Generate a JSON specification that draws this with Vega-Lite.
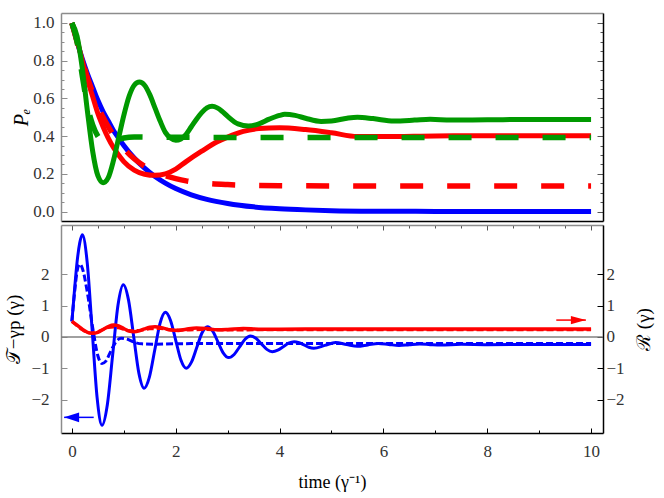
{
  "$schema": "https://vega.github.io/schema/vega-lite/v6.json",
  "padding": {"left": 4, "top": 11, "right": 2, "bottom": 5},
  "datasets": {
    "top": [
      {"t":0,"v":1.0,"s":"b"},{"t":0.1,"v":0.9,"s":"b"},{"t":0.2,"v":0.81,"s":"b"},{"t":0.3,"v":0.73,"s":"b"},{"t":0.4,"v":0.66,"s":"b"},{"t":0.5,"v":0.59,"s":"b"},{"t":0.6,"v":0.53,"s":"b"},{"t":0.7,"v":0.48,"s":"b"},{"t":0.8,"v":0.43,"s":"b"},{"t":0.9,"v":0.39,"s":"b"},{"t":1.0,"v":0.35,"s":"b"},{"t":1.2,"v":0.284,"s":"b"},{"t":1.4,"v":0.23,"s":"b"},{"t":1.6,"v":0.186,"s":"b"},{"t":1.8,"v":0.151,"s":"b"},{"t":2.0,"v":0.122,"s":"b"},{"t":2.3,"v":0.089,"s":"b"},{"t":2.6,"v":0.065,"s":"b"},{"t":3.0,"v":0.043,"s":"b"},{"t":3.5,"v":0.025,"s":"b"},{"t":4.0,"v":0.015,"s":"b"},{"t":4.5,"v":0.009,"s":"b"},{"t":5,"v":0.005,"s":"b"},{"t":6,"v":0.002,"s":"b"},{"t":7,"v":0.001,"s":"b"},{"t":8,"v":0.0,"s":"b"},{"t":10,"v":0.0,"s":"b"},
      {"t":0,"v":1.0,"s":"r"},{"t":0.1,"v":0.91,"s":"r"},{"t":0.2,"v":0.8,"s":"r"},{"t":0.3,"v":0.7,"s":"r"},{"t":0.4,"v":0.61,"s":"r"},{"t":0.5,"v":0.52,"s":"r"},{"t":0.6,"v":0.45,"s":"r"},{"t":0.7,"v":0.39,"s":"r"},{"t":0.8,"v":0.34,"s":"r"},{"t":0.9,"v":0.3,"s":"r"},{"t":1.0,"v":0.265,"s":"r"},{"t":1.2,"v":0.22,"s":"r"},{"t":1.4,"v":0.198,"s":"r"},{"t":1.6,"v":0.192,"s":"r"},{"t":1.8,"v":0.2,"s":"r"},{"t":2.0,"v":0.225,"s":"r"},{"t":2.2,"v":0.265,"s":"r"},{"t":2.5,"v":0.32,"s":"r"},{"t":2.8,"v":0.37,"s":"r"},{"t":3.0,"v":0.395,"s":"r"},{"t":3.3,"v":0.425,"s":"r"},{"t":3.6,"v":0.44,"s":"r"},{"t":4.0,"v":0.445,"s":"r"},{"t":4.5,"v":0.435,"s":"r"},{"t":5.0,"v":0.418,"s":"r"},{"t":5.5,"v":0.398,"s":"r"},{"t":6.0,"v":0.398,"s":"r"},{"t":7,"v":0.401,"s":"r"},{"t":8,"v":0.402,"s":"r"},{"t":9,"v":0.402,"s":"r"},{"t":10,"v":0.402,"s":"r"},
      {"t":0,"v":1.0,"s":"rd"},{"t":0.1,"v":0.9,"s":"rd"},{"t":0.2,"v":0.8,"s":"rd"},{"t":0.3,"v":0.71,"s":"rd"},{"t":0.4,"v":0.63,"s":"rd"},{"t":0.5,"v":0.56,"s":"rd"},{"t":0.6,"v":0.5,"s":"rd"},{"t":0.7,"v":0.45,"s":"rd"},{"t":0.8,"v":0.405,"s":"rd"},{"t":1.0,"v":0.335,"s":"rd"},{"t":1.2,"v":0.28,"s":"rd"},{"t":1.4,"v":0.24,"s":"rd"},{"t":1.6,"v":0.21,"s":"rd"},{"t":1.8,"v":0.19,"s":"rd"},{"t":2.0,"v":0.175,"s":"rd"},{"t":2.2,"v":0.163,"s":"rd"},{"t":2.5,"v":0.152,"s":"rd"},{"t":3.0,"v":0.143,"s":"rd"},{"t":3.5,"v":0.139,"s":"rd"},{"t":4,"v":0.137,"s":"rd"},{"t":5,"v":0.136,"s":"rd"},{"t":6,"v":0.135,"s":"rd"},{"t":10,"v":0.135,"s":"rd"},
      {"t":0,"v":1.0,"s":"g"},{"t":0.1,"v":0.93,"s":"g"},{"t":0.2,"v":0.76,"s":"g"},{"t":0.3,"v":0.53,"s":"g"},{"t":0.4,"v":0.32,"s":"g"},{"t":0.5,"v":0.19,"s":"g"},{"t":0.6,"v":0.153,"s":"g"},{"t":0.7,"v":0.18,"s":"g"},{"t":0.8,"v":0.27,"s":"g"},{"t":0.9,"v":0.39,"s":"g"},{"t":1.0,"v":0.51,"s":"g"},{"t":1.1,"v":0.61,"s":"g"},{"t":1.2,"v":0.67,"s":"g"},{"t":1.3,"v":0.687,"s":"g"},{"t":1.4,"v":0.67,"s":"g"},{"t":1.5,"v":0.62,"s":"g"},{"t":1.6,"v":0.55,"s":"g"},{"t":1.7,"v":0.48,"s":"g"},{"t":1.8,"v":0.42,"s":"g"},{"t":1.9,"v":0.39,"s":"g"},{"t":2.0,"v":0.378,"s":"g"},{"t":2.1,"v":0.385,"s":"g"},{"t":2.2,"v":0.41,"s":"g"},{"t":2.3,"v":0.45,"s":"g"},{"t":2.4,"v":0.49,"s":"g"},{"t":2.5,"v":0.525,"s":"g"},{"t":2.6,"v":0.55,"s":"g"},{"t":2.7,"v":0.558,"s":"g"},{"t":2.8,"v":0.55,"s":"g"},{"t":2.9,"v":0.53,"s":"g"},{"t":3.0,"v":0.505,"s":"g"},{"t":3.2,"v":0.465,"s":"g"},{"t":3.4,"v":0.454,"s":"g"},{"t":3.6,"v":0.465,"s":"g"},{"t":3.8,"v":0.49,"s":"g"},{"t":4.0,"v":0.51,"s":"g"},{"t":4.1,"v":0.516,"s":"g"},{"t":4.3,"v":0.51,"s":"g"},{"t":4.5,"v":0.495,"s":"g"},{"t":4.8,"v":0.478,"s":"g"},{"t":5.0,"v":0.48,"s":"g"},{"t":5.3,"v":0.495,"s":"g"},{"t":5.5,"v":0.5,"s":"g"},{"t":5.8,"v":0.493,"s":"g"},{"t":6.2,"v":0.48,"s":"g"},{"t":6.6,"v":0.485,"s":"g"},{"t":6.9,"v":0.49,"s":"g"},{"t":7.3,"v":0.485,"s":"g"},{"t":8,"v":0.487,"s":"g"},{"t":9,"v":0.488,"s":"g"},{"t":10,"v":0.488,"s":"g"},
      {"t":0,"v":1.0,"s":"gd"},{"t":0.1,"v":0.9,"s":"gd"},{"t":0.2,"v":0.72,"s":"gd"},{"t":0.3,"v":0.56,"s":"gd"},{"t":0.4,"v":0.46,"s":"gd"},{"t":0.5,"v":0.4,"s":"gd"},{"t":0.6,"v":0.375,"s":"gd"},{"t":0.7,"v":0.368,"s":"gd"},{"t":0.8,"v":0.372,"s":"gd"},{"t":0.9,"v":0.382,"s":"gd"},{"t":1.0,"v":0.39,"s":"gd"},{"t":1.2,"v":0.396,"s":"gd"},{"t":1.5,"v":0.395,"s":"gd"},{"t":2,"v":0.394,"s":"gd"},{"t":4,"v":0.393,"s":"gd"},{"t":7,"v":0.393,"s":"gd"},{"t":10,"v":0.393,"s":"gd"}
    ],
    "bot": [
      {"t":0,"v":0.5,"s":"B"},{"t":0.05,"v":1.5,"s":"B"},{"t":0.1,"v":2.4,"s":"B"},{"t":0.15,"v":3.0,"s":"B"},{"t":0.2,"v":3.27,"s":"B"},{"t":0.295,"v":2.38,"s":"B"},{"t":0.39,"v":0.225,"s":"B"},{"t":0.485,"v":-1.93,"s":"B"},{"t":0.58,"v":-2.82,"s":"B"},{"t":0.6825,"v":-2.164,"s":"B"},{"t":0.785,"v":-0.575,"s":"B"},{"t":0.8875,"v":1.014,"s":"B"},{"t":0.99,"v":1.67,"s":"B"},{"t":1.09,"v":1.187,"s":"B"},{"t":1.19,"v":0.015,"s":"B"},{"t":1.29,"v":-1.157,"s":"B"},{"t":1.39,"v":-1.64,"s":"B"},{"t":1.4925,"v":-1.285,"s":"B"},{"t":1.595,"v":-0.425,"s":"B"},{"t":1.6975,"v":0.435,"s":"B"},{"t":1.8,"v":0.79,"s":"B"},{"t":1.9,"v":0.529,"s":"B"},{"t":2.0,"v":-0.105,"s":"B"},{"t":2.1,"v":-0.738,"s":"B"},{"t":2.2,"v":-1.0,"s":"B"},{"t":2.3025,"v":-0.806,"s":"B"},{"t":2.405,"v":-0.335,"s":"B"},{"t":2.5075,"v":0.136,"s":"B"},{"t":2.61,"v":0.33,"s":"B"},{"t":2.7125,"v":0.185,"s":"B"},{"t":2.815,"v":-0.165,"s":"B"},{"t":2.9175,"v":-0.515,"s":"B"},{"t":3.02,"v":-0.66,"s":"B"},{"t":3.125,"v":-0.559,"s":"B"},{"t":3.23,"v":-0.315,"s":"B"},{"t":3.335,"v":-0.071,"s":"B"},{"t":3.44,"v":0.03,"s":"B"},{"t":3.545,"v":-0.043,"s":"B"},{"t":3.65,"v":-0.22,"s":"B"},{"t":3.755,"v":-0.397,"s":"B"},{"t":3.86,"v":-0.47,"s":"B"},{"t":3.965,"v":-0.423,"s":"B"},{"t":4.07,"v":-0.31,"s":"B"},{"t":4.175,"v":-0.197,"s":"B"},{"t":4.28,"v":-0.15,"s":"B"},{"t":4.375,"v":-0.18,"s":"B"},{"t":4.47,"v":-0.255,"s":"B"},{"t":4.565,"v":-0.33,"s":"B"},{"t":4.66,"v":-0.36,"s":"B"},{"t":4.87,"v":-0.27,"s":"B"},{"t":5.08,"v":-0.18,"s":"B"},{"t":5.29,"v":-0.24,"s":"B"},{"t":5.5,"v":-0.3,"s":"B"},{"t":5.7,"v":-0.255,"s":"B"},{"t":5.9,"v":-0.21,"s":"B"},{"t":6.1,"v":-0.24,"s":"B"},{"t":6.3,"v":-0.27,"s":"B"},{"t":6.5,"v":-0.245,"s":"B"},{"t":6.7,"v":-0.225,"s":"B"},{"t":6.9,"v":-0.245,"s":"B"},{"t":7.1,"v":-0.26,"s":"B"},{"t":7.5,"v":-0.235,"s":"B"},{"t":8,"v":-0.245,"s":"B"},{"t":9,"v":-0.242,"s":"B"},{"t":10,"v":-0.243,"s":"B"},
      {"t":0,"v":0.5,"s":"Bd"},{"t":0.05,"v":1.4,"s":"Bd"},{"t":0.1,"v":2.1,"s":"Bd"},{"t":0.15,"v":2.33,"s":"Bd"},{"t":0.2,"v":2.2,"s":"Bd"},{"t":0.3,"v":1.4,"s":"Bd"},{"t":0.4,"v":0.3,"s":"Bd"},{"t":0.5,"v":-0.6,"s":"Bd"},{"t":0.58,"v":-0.85,"s":"Bd"},{"t":0.65,"v":-0.78,"s":"Bd"},{"t":0.75,"v":-0.45,"s":"Bd"},{"t":0.85,"v":-0.15,"s":"Bd"},{"t":0.95,"v":-0.04,"s":"Bd"},{"t":1.05,"v":-0.06,"s":"Bd"},{"t":1.2,"v":-0.17,"s":"Bd"},{"t":1.35,"v":-0.22,"s":"Bd"},{"t":1.6,"v":-0.23,"s":"Bd"},{"t":2,"v":-0.215,"s":"Bd"},{"t":3,"v":-0.21,"s":"Bd"},{"t":5,"v":-0.21,"s":"Bd"},{"t":10,"v":-0.21,"s":"Bd"},
      {"t":0,"v":0.5,"s":"R"},{"t":0.1,"v":0.38,"s":"R"},{"t":0.2,"v":0.25,"s":"R"},{"t":0.3,"v":0.15,"s":"R"},{"t":0.4,"v":0.12,"s":"R"},{"t":0.5,"v":0.15,"s":"R"},{"t":0.6,"v":0.24,"s":"R"},{"t":0.7,"v":0.33,"s":"R"},{"t":0.8,"v":0.38,"s":"R"},{"t":0.9,"v":0.35,"s":"R"},{"t":1.0,"v":0.27,"s":"R"},{"t":1.1,"v":0.19,"s":"R"},{"t":1.2,"v":0.17,"s":"R"},{"t":1.3,"v":0.2,"s":"R"},{"t":1.4,"v":0.26,"s":"R"},{"t":1.5,"v":0.31,"s":"R"},{"t":1.6,"v":0.33,"s":"R"},{"t":1.75,"v":0.29,"s":"R"},{"t":1.9,"v":0.22,"s":"R"},{"t":2.05,"v":0.21,"s":"R"},{"t":2.2,"v":0.25,"s":"R"},{"t":2.4,"v":0.29,"s":"R"},{"t":2.6,"v":0.27,"s":"R"},{"t":2.8,"v":0.23,"s":"R"},{"t":3.0,"v":0.24,"s":"R"},{"t":3.3,"v":0.27,"s":"R"},{"t":3.6,"v":0.25,"s":"R"},{"t":4.0,"v":0.25,"s":"R"},{"t":5,"v":0.255,"s":"R"},{"t":10,"v":0.255,"s":"R"},
      {"t":0,"v":0.5,"s":"Rd"},{"t":0.1,"v":0.36,"s":"Rd"},{"t":0.2,"v":0.23,"s":"Rd"},{"t":0.3,"v":0.14,"s":"Rd"},{"t":0.4,"v":0.13,"s":"Rd"},{"t":0.5,"v":0.17,"s":"Rd"},{"t":0.6,"v":0.24,"s":"Rd"},{"t":0.7,"v":0.3,"s":"Rd"},{"t":0.8,"v":0.32,"s":"Rd"},{"t":0.9,"v":0.29,"s":"Rd"},{"t":1.0,"v":0.24,"s":"Rd"},{"t":1.15,"v":0.2,"s":"Rd"},{"t":1.3,"v":0.21,"s":"Rd"},{"t":1.5,"v":0.26,"s":"Rd"},{"t":1.7,"v":0.27,"s":"Rd"},{"t":1.9,"v":0.23,"s":"Rd"},{"t":2.2,"v":0.22,"s":"Rd"},{"t":2.5,"v":0.24,"s":"Rd"},{"t":3,"v":0.225,"s":"Rd"},{"t":4,"v":0.23,"s":"Rd"},{"t":10,"v":0.23,"s":"Rd"}
    ]
  },
  "spacing": 2,
  "vconcat": [
    {
      "width": 542,
      "height": 208,
      "data": {"name": "top"},
      "resolve": {"axis": {"x": "independent", "y": "independent"}},
      "layer": [
        {
          "transform": [{"filter": "datum.s === 'b'"}],
          "mark": {"type": "line", "color": "#0000ff", "strokeWidth": 5, "interpolate": "monotone"},
          "encoding": {
            "x": {"field": "t", "type": "quantitative", "scale": {"domain": [-0.21, 10.23], "nice": false, "zero": false},
              "axis": {"orient": "bottom", "title": null, "labels": false, "ticks": false, "domainColor": "#000000"}},
            "y": {"field": "v", "type": "quantitative", "scale": {"domain": [-0.05, 1.053], "nice": false, "zero": false},
              "axis": {"orient": "left", "title": "Pₑ", "titleFontStyle": "italic", "titleFontSize": 20, "titlePadding": 1,
                "values": [0,0.05,0.1,0.15,0.2,0.25,0.3,0.35,0.4,0.45,0.5,0.55,0.6,0.65,0.7,0.75,0.8,0.85,0.9,0.95,1],
                "format": ".1f",
                "labelExpr": "abs(datum.value*5-round(datum.value*5))<0.001 ? datum.label : ''",
                "tickSize": {"condition": {"test": "abs(datum.value*5-round(datum.value*5))<0.001", "value": -6}, "value": -3},
                "labelPadding": 13, "labelOverlap": false, "labelFlush": false,
                "domainColor": "#8c8c8c", "tickColor": "#8c8c8c"}}
          }
        },
        {
          "transform": [{"filter": "datum.s === 'r'"}],
          "mark": {"type": "line", "color": "#ff0000", "strokeWidth": 5, "interpolate": "monotone"},
          "encoding": {
            "x": {"field": "t", "type": "quantitative", "axis": null},
            "y": {"field": "v", "type": "quantitative", "axis": null}
          }
        },
        {
          "transform": [{"filter": "datum.s === 'rd'"}],
          "mark": {"type": "line", "color": "#ff0000", "strokeWidth": 5.5, "strokeDash": [23, 24], "interpolate": "monotone"},
          "encoding": {
            "x": {"field": "t", "type": "quantitative", "axis": null},
            "y": {"field": "v", "type": "quantitative", "axis": null}
          }
        },
        {
          "transform": [{"filter": "datum.s === 'g'"}],
          "mark": {"type": "line", "color": "#009900", "strokeWidth": 5, "interpolate": "monotone"},
          "encoding": {
            "x": {"field": "t", "type": "quantitative",
              "axis": {"orient": "top", "title": null, "labels": false, "ticks": false, "domainColor": "#8c8c8c"}},
            "y": {"field": "v", "type": "quantitative",
              "axis": {"orient": "right", "title": null, "labels": false,
                "values": [0,0.05,0.1,0.15,0.2,0.25,0.3,0.35,0.4,0.45,0.5,0.55,0.6,0.65,0.7,0.75,0.8,0.85,0.9,0.95,1],
                "tickSize": {"condition": {"test": "abs(datum.value*5-round(datum.value*5))<0.001", "value": -6}, "value": -3},
                "domainColor": "#000000", "tickColor": "#555555"}}
          }
        },
        {
          "transform": [{"filter": "datum.s === 'gd'"}],
          "mark": {"type": "line", "color": "#009900", "strokeWidth": 5.5, "strokeDash": [23, 24], "interpolate": "monotone"},
          "encoding": {
            "x": {"field": "t", "type": "quantitative", "axis": null},
            "y": {"field": "v", "type": "quantitative", "axis": null}
          }
        }
      ]
    },
    {
      "width": 542,
      "height": 208,
      "resolve": {"axis": {"x": "independent", "y": "independent"}},
      "layer": [
        {
          "data": {"values": [{"v": 0}]},
          "mark": {"type": "rule", "color": "#808080", "strokeWidth": 1.5},
          "encoding": {
            "y": {"field": "v", "type": "quantitative", "axis": null, "scale": {"domain": [-3.07, 3.58], "nice": false, "zero": false}}
          }
        },
        {
          "data": {"name": "bot"},
          "transform": [{"filter": "datum.s === 'B'"}],
          "mark": {"type": "line", "color": "#0000ff", "strokeWidth": 3, "interpolate": "monotone"},
          "encoding": {
            "x": {"field": "t", "type": "quantitative", "scale": {"domain": [-0.21, 10.23], "nice": false, "zero": false},
              "axis": {"orient": "bottom", "title": "time (γ⁻¹)", "titleFontSize": 18, "titlePadding": 12,
                "values": [0,0.5,1,1.5,2,2.5,3,3.5,4,4.5,5,5.5,6,6.5,7,7.5,8,8.5,9,9.5,10],
                "format": "d",
                "labelExpr": "datum.value % 2 === 0 ? datum.label : ''",
                "tickSize": {"condition": {"test": "datum.value % 2 === 0", "value": -5}, "value": -3},
                "labelPadding": 15, "labelOverlap": false, "labelFlush": false,
                "domainColor": "#000000", "tickColor": "#000000"}},
            "y": {"field": "v", "type": "quantitative",
              "axis": {"orient": "left", "title": "𝒯−γp (γ)", "titleFontSize": 19, "titlePadding": 7,
                "values": [-2, -1, 0, 1, 2], "format": "d", "tickSize": -6,
                "labelPadding": 18, "labelOverlap": false, "labelFlush": false,
                "domainColor": "#8c8c8c", "tickColor": "#8c8c8c"}}
          }
        },
        {
          "data": {"name": "bot"},
          "transform": [{"filter": "datum.s === 'Bd'"}],
          "mark": {"type": "line", "color": "#0000ff", "strokeWidth": 3, "strokeDash": [7, 3], "interpolate": "monotone"},
          "encoding": {
            "x": {"field": "t", "type": "quantitative", "axis": null},
            "y": {"field": "v", "type": "quantitative", "axis": null}
          }
        },
        {
          "data": {"name": "bot"},
          "transform": [{"filter": "datum.s === 'R'"}],
          "mark": {"type": "line", "color": "#ff0000", "strokeWidth": 3.5, "interpolate": "monotone"},
          "encoding": {
            "x": {"field": "t", "type": "quantitative",
              "axis": {"orient": "top", "title": null, "labels": false,
                "values": [0,0.5,1,1.5,2,2.5,3,3.5,4,4.5,5,5.5,6,6.5,7,7.5,8,8.5,9,9.5,10],
                "tickSize": {"condition": {"test": "datum.value % 2 === 0", "value": -5}, "value": -3},
                "domainColor": "#8c8c8c", "tickColor": "#555555"}},
            "y": {"field": "v", "type": "quantitative",
              "axis": {"orient": "right", "title": "ℛ (γ)", "titleFontSize": 19, "titleAngle": 270, "titleBaseline": "top", "titlePadding": 10,
                "values": [-2, -1, 0, 1, 2], "format": "d", "tickSize": -6,
                "labelPadding": 9, "labelOverlap": false, "labelFlush": false,
                "domainColor": "#000000", "tickColor": "#000000"}}
          }
        },
        {
          "data": {"name": "bot"},
          "transform": [{"filter": "datum.s === 'Rd'"}],
          "mark": {"type": "line", "color": "#ff0000", "strokeWidth": 3, "strokeDash": [7, 3], "interpolate": "monotone"},
          "encoding": {
            "x": {"field": "t", "type": "quantitative", "axis": null},
            "y": {"field": "v", "type": "quantitative", "axis": null}
          }
        },
        {
          "data": {"values": [{"a": -0.15, "b": 0.42, "v": -2.57, "k": "blue"}, {"a": 9.9, "b": 9.33, "v": 0.54, "k": "red"}]},
          "mark": {"type": "rule", "strokeWidth": 1.5},
          "encoding": {
            "x": {"field": "a", "type": "quantitative", "axis": null},
            "x2": {"field": "b"},
            "y": {"field": "v", "type": "quantitative", "axis": null},
            "color": {"field": "k", "type": "nominal", "scale": {"domain": ["blue", "red"], "range": ["#0000ff", "#ff0000"]}, "legend": null}
          }
        },
        {
          "data": {"values": [{"a": -0.15, "v": -2.57}]},
          "mark": {"type": "point", "filled": true, "opacity": 1, "color": "#0000ff", "strokeWidth": 0, "size": 225, "shape": "M0,0L2,-0.65L2,0.65Z"},
          "encoding": {
            "x": {"field": "a", "type": "quantitative", "axis": null},
            "y": {"field": "v", "type": "quantitative", "axis": null}
          }
        },
        {
          "data": {"values": [{"a": 9.9, "v": 0.54}]},
          "mark": {"type": "point", "filled": true, "opacity": 1, "color": "#ff0000", "strokeWidth": 0, "size": 225, "shape": "M0,0L-2,-0.55L-2,0.55Z"},
          "encoding": {
            "x": {"field": "a", "type": "quantitative", "axis": null},
            "y": {"field": "v", "type": "quantitative", "axis": null}
          }
        }
      ]
    }
  ],
  "config": {
    "view": {"stroke": null},
    "axis": {
      "grid": false,
      "labelFont": "Liberation Serif",
      "titleFont": "Liberation Serif",
      "labelFontSize": 17,
      "titleFontSize": 16,
      "labelColor": "#333333",
      "titleColor": "#000000",
      "titleFontWeight": "normal",
      "domainWidth": 1.5,
      "tickWidth": 1
    }
  }
}
